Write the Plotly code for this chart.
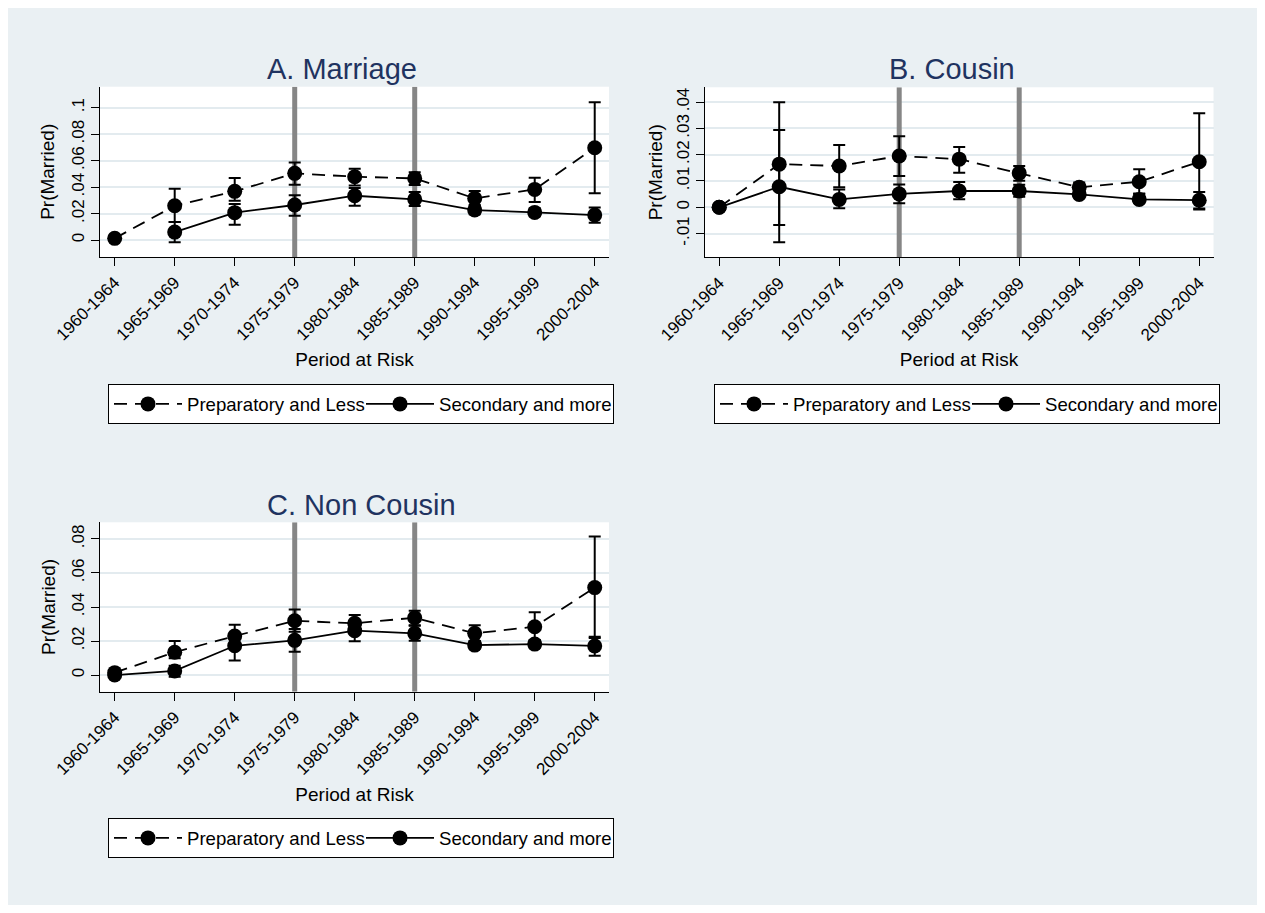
import plotly.graph_objects as go

# ---------------- data ----------------
periods = ["1960-1964", "1965-1969", "1970-1974", "1975-1979", "1980-1984",
           "1985-1989", "1990-1994", "1995-1999", "2000-2004"]
ref_periods = ["1975-1979", "1985-1989"]

# Panel A. Marriage
prep_A = [0.0013, 0.0259, 0.0368, 0.0504, 0.0479, 0.0466, 0.0315, 0.0383, 0.0698]
prep_A_lo = [0.0008, 0.0136, 0.0297, 0.0418, 0.0413, 0.0416, 0.0265, 0.0287, 0.0353]
prep_A_hi = [0.0018, 0.0388, 0.0469, 0.0587, 0.0539, 0.0512, 0.0370, 0.0471, 0.1041]
sec_A = [None, 0.0060, 0.0207, 0.0265, 0.0335, 0.0308, 0.0227, 0.0209, 0.0189]
sec_A_lo = [None, -0.0017, 0.0116, 0.0184, 0.0260, 0.0257, 0.0195, 0.0180, 0.0131]
sec_A_hi = [None, 0.0136, 0.0272, 0.0338, 0.0393, 0.0363, 0.0260, 0.0240, 0.0247]

# Panel B. Cousin
prep_B = [0.0, 0.0164, 0.0157, 0.0195, 0.0183, 0.0130, 0.0076, 0.0097, 0.0173]
prep_B_lo = [0.0, -0.0067, 0.0076, 0.0119, 0.0131, 0.0101, 0.0059, 0.0051, -0.0005]
prep_B_hi = [0.0, 0.0294, 0.0237, 0.0270, 0.0229, 0.0157, 0.0094, 0.0145, 0.0357]
sec_B = [0.0, 0.0078, 0.0030, 0.0051, 0.0062, 0.0062, 0.0049, 0.0030, 0.0027]
sec_B_lo = [0.0, -0.0133, -0.0004, 0.0015, 0.0031, 0.0040, 0.0037, 0.0016, -0.0008]
sec_B_hi = [0.0, 0.0399, 0.0068, 0.0087, 0.0096, 0.0086, 0.0060, 0.0052, 0.0058]

# Panel C. Non Cousin
prep_C = [0.0014, 0.0134, 0.0229, 0.0319, 0.0304, 0.0337, 0.0245, 0.0284, 0.0514]
prep_C_lo = [0.0008, 0.0098, 0.0170, 0.0255, 0.0262, 0.0292, 0.0200, 0.0205, 0.0225]
prep_C_hi = [0.0020, 0.0200, 0.0296, 0.0386, 0.0353, 0.0378, 0.0292, 0.0369, 0.0814]
sec_C = [0.0, 0.0024, 0.0172, 0.0204, 0.0261, 0.0245, 0.0176, 0.0182, 0.0171]
sec_C_lo = [-0.0005, -0.0010, 0.0086, 0.0137, 0.0198, 0.0202, 0.0154, 0.0160, 0.0114]
sec_C_hi = [0.0005, 0.0055, 0.0232, 0.0271, 0.0312, 0.0290, 0.0200, 0.0205, 0.0218]

yticks_A = [0, 0.02, 0.04, 0.06, 0.08, 0.1]
ytext_A = ["0", ".02", ".04", ".06", ".08", ".1"]
yticks_B = [-0.01, 0, 0.01, 0.02, 0.03, 0.04]
ytext_B = ["-.01", "0", ".01", ".02", ".03", ".04"]
yticks_C = [0, 0.02, 0.04, 0.06, 0.08]
ytext_C = ["0", ".02", ".04", ".06", ".08"]

titles = ["A. Marriage", "B. Cousin", "C. Non Cousin"]
series_names = ["Preparatory and Less", "Secondary and more"]
y_title = "Pr(Married)"
x_title = "Period at Risk"

# ---------------- styling ----------------
OFF = 8            # page body margin
W, H = 1250, 897   # figure size (screen 8..1258, 8..905)
BG = "#EAF0F3"
GRID = "#E3EBEF"
NAVY = "#1F3360"
FONT = "Liberation Sans, Arial, sans-serif"

def px_x(p):
    return (p - OFF) / W

def px_y(p):
    return (H - (p - OFF)) / H

xpos = list(range(1, len(periods) + 1))

def err(vals, lo, hi):
    plus = [None if v is None else h - v for v, h in zip(vals, hi)]
    minus = [None if v is None else v - l for v, l in zip(vals, lo)]
    return plus, minus

fig = go.Figure()

panels = [
    dict(prep=(prep_A, prep_A_lo, prep_A_hi), sec=(sec_A, sec_A_lo, sec_A_hi),
         xa="x", ya="y", legend="legend",
         xdom=[px_x(100), px_x(609)], ydom=[px_y(257), px_y(86.7)],
         yr=[-0.0128, 0.1159], yt=(yticks_A, ytext_A),
         title_x=341.5, title_y=69, leg=(108, 384.3), ytitle_x=48),
    dict(prep=(prep_B, prep_B_lo, prep_B_hi), sec=(sec_B, sec_B_lo, sec_B_hi),
         xa="x2", ya="y2", legend="legend2",
         xdom=[px_x(704.5), px_x(1213.5)], ydom=[px_y(257.3), px_y(87.3)],
         yr=[-0.0190, 0.0456], yt=(yticks_B, ytext_B),
         title_x=952, title_y=69, leg=(714, 384.3), ytitle_x=655),
    dict(prep=(prep_C, prep_C_lo, prep_C_hi), sec=(sec_C, sec_C_lo, sec_C_hi),
         xa="x3", ya="y3", legend="legend3",
         xdom=[px_x(100), px_x(609)], ydom=[px_y(691.7), px_y(522.3)],
         yr=[-0.0098, 0.0898], yt=(yticks_C, ytext_C),
         title_x=361, title_y=505, leg=(108, 818.3), ytitle_x=48),
]

layout_axes = {}
shapes = []
annotations = []

for i, p in enumerate(panels):
    for j, (vals, lo, hi) in enumerate([p["prep"], p["sec"]]):
        plus, minus = err(vals, lo, hi)
        fig.add_trace(go.Scatter(
            x=xpos, y=vals, name=series_names[j], mode="lines+markers",
            xaxis=p["xa"], yaxis=p["ya"], legend=p["legend"],
            connectgaps=False,
            line=dict(color="black", width=1.8, dash="13px,8px" if j == 0 else "solid"),
            marker=dict(color="black", size=15, symbol="circle"),
            error_y=dict(type="data", symmetric=False, array=plus, arrayminus=minus,
                         color="black", thickness=2, width=6),
            hoverinfo="x+y",
        ))
    sfx = "" if i == 0 else str(i + 1)
    layout_axes["xaxis" + sfx] = dict(
        domain=p["xdom"], anchor="y" + sfx, range=[0.755, 9.238], automargin=False,
        tickmode="array", tickvals=xpos, ticktext=periods, tickangle=-45,
        ticks="outside", ticklen=8, tickwidth=1, tickcolor="black",
        showline=True, linecolor="black", linewidth=1, showgrid=False, zeroline=False,
        tickfont=dict(size=17, color="black", family=FONT),
        title=dict(text=x_title, font=dict(size=19, color="black", family=FONT), standoff=9),
    )
    layout_axes["yaxis" + sfx] = dict(
        domain=p["ydom"], anchor="x" + sfx, range=p["yr"], automargin=False,
        tickmode="array", tickvals=p["yt"][0], ticktext=p["yt"][1], tickangle=-90,
        ticks="outside", ticklen=8, tickwidth=1, tickcolor="black",
        showline=True, linecolor="black", linewidth=1,
        showgrid=True, gridcolor=GRID, gridwidth=2, zeroline=False,
        tickfont=dict(size=17, color="black", family=FONT),
    )
    for rp in ref_periods:
        xr = periods.index(rp) + 1
        shapes.append(dict(type="line", xref=p["xa"], yref=p["ya"],
                           x0=xr, x1=xr, y0=p["yr"][0], y1=p["yr"][1], layer="between",
                           line=dict(color="#868686", width=5)))
    annotations.append(dict(text=titles[i], x=px_x(p["title_x"]), y=px_y(p["title_y"]),
                            xref="paper", yref="paper", xanchor="center", yanchor="middle",
                            showarrow=False, font=dict(size=29, color=NAVY, family=FONT)))
    annotations.append(dict(text=y_title, x=px_x(p["ytitle_x"]), y=0.5,
                            xref="paper", yref=p["ya"] + " domain",
                            xanchor="center", yanchor="middle", textangle=-90,
                            showarrow=False, font=dict(size=19, color="black", family=FONT)))
    layout_axes[p["legend"]] = dict(
        orientation="h", x=px_x(p["leg"][0]), y=px_y(p["leg"][1]),
        xanchor="left", yanchor="top", bgcolor="white", bordercolor="black", borderwidth=1,
        font=dict(size=18.6, color="black", family=FONT), itemwidth=68,
        entrywidth=169, tracegroupgap=0,
    )

fig.update_layout(
    width=W, height=H, margin=dict(l=0, r=0, t=0, b=0, autoexpand=False),
    paper_bgcolor=BG, plot_bgcolor="white",
    font=dict(family=FONT, color="black"),
    shapes=shapes, annotations=annotations, showlegend=True,
    **layout_axes,
)

fig.write_html("out.html")
